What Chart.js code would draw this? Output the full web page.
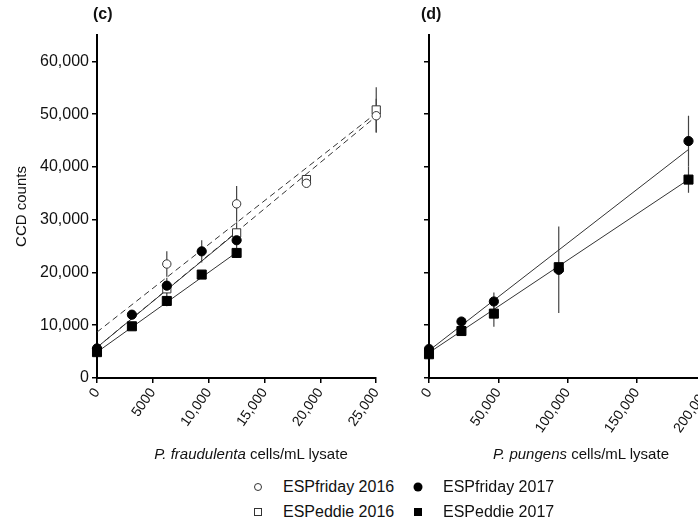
<!DOCTYPE html>
<html>
<head>
<meta charset="utf-8">
<script src="https://cdn.jsdelivr.net/npm/chart.js@4.4.1/dist/chart.umd.min.js"></script>
<style>
  body { margin: 0; width: 698px; height: 523px; overflow: hidden; background: #fff; font-family: "Liberation Sans", Arial, sans-serif; color: #111; }
  #wrap { position: relative; width: 698px; height: 523px; }
  canvas { position: absolute; top: 0; }
  .panel { position: absolute; top: 5px; font-weight: bold; font-size: 16px; }
  .xtitle { position: absolute; font-size: 15px; white-space: nowrap; transform: translate(-50%, -50%); }
  .leg { position: absolute; font-size: 16px; white-space: nowrap; transform: translateY(-50%); }
  .sym { position: absolute; box-sizing: border-box; transform: translate(-50%, -50%); }
</style>
</head>
<body>
<div id="wrap">
  <canvas id="chartC" width="392" height="475" style="left:0"></canvas>
  <canvas id="chartD" width="342" height="475" style="left:380px"></canvas>
  <div class="panel" style="left:93px">(c)</div>
  <div class="panel" style="left:421px">(d)</div>
  <div class="xtitle" style="left:251px; top:453px"><i>P. fraudulenta</i> cells/mL lysate</div>
  <div class="xtitle" style="left:581px; top:453px"><i>P. pungens</i> cells/mL lysate</div>

  <div class="sym" style="left:258px; top:487px; width:8px; height:8px; border:1px solid #333; border-radius:50%"></div>
  <div class="leg" style="left:283px; top:487px">ESPfriday 2016</div>
  <div class="sym" style="left:418px; top:487px; width:9px; height:9px; background:#000; border-radius:50%"></div>
  <div class="leg" style="left:443px; top:487px">ESPfriday 2017</div>
  <div class="sym" style="left:258px; top:512px; width:8px; height:8px; border:1px solid #333"></div>
  <div class="leg" style="left:283px; top:512px">ESPeddie 2016</div>
  <div class="sym" style="left:418px; top:512px; width:8px; height:8px; background:#000"></div>
  <div class="leg" style="left:443px; top:512px">ESPeddie 2017</div>
</div>
<script>
// axis ticks
const yTickValues = [0, 10000, 20000, 30000, 40000, 50000, 60000];
const yTickLabels = ['0', '10,000', '20,000', '30,000', '40,000', '50,000', '60,000'];
const xTickValuesC = [0, 5000, 10000, 15000, 20000, 25000];
const xTickLabelsC = ['0', '5000', '10,000', '15,000', '20,000', '25,000'];
const xTickValuesD = [0, 50000, 100000, 150000, 200000];
const xTickLabelsD = ['0', '50,000', '100,000', '150,000', '200,000'];

// (c) P. fraudulenta
const fraudX2016 = [6250, 12500, 18750, 25000];
const fraudFriday2016 = [21600, 33000, 36900, 49700];
const fraudFriday2016Err = [2400, 3400, 600, 3200];
const fraudEddie2016 = [16900, 27500, 37600, 50800];
const fraudEddie2016Err = [1500, 2000, 600, 4300];
const fraudX2017 = [0, 3125, 6250, 9375, 12500];
const fraudFriday2017 = [5600, 12000, 17500, 24000, 26100];
const fraudFriday2017Err = [300, 400, 1500, 2100, 1500];
const fraudEddie2017 = [4900, 9800, 14600, 19600, 23700];
const fraudEddie2017Err = [600, 500, 1000, 700, 900];
// regression lines (start, end)
const fraudFitX2016 = [0, 25000];
const fraudFitFriday2016 = [8700, 50200];
const fraudFitEddie2016 = [5800, 49600];
const fraudFitX2017 = [0, 12500];
const fraudFitFriday2017 = [5800, 27600];
const fraudFitEddie2017 = [4900, 23800];

// (d) P. pungens
const pungX = [0, 23400, 46800, 93600, 187200];
const pungFriday2017 = [5500, 10700, 14500, 20500, 44900];
const pungFriday2017Err = [300, 700, 1700, 8200, 4800];
const pungEddie2017 = [4500, 8900, 12200, 21000, 37600];
const pungEddie2017Err = [300, 400, 2500, 500, 2500];
const pungFitX = [0, 187200];
const pungFitFriday2017 = [5200, 43300];
const pungFitEddie2017 = [4800, 37600];

const pts = (xs, ys) => xs.map((x, i) => ({ x: x, y: ys[i] }));

// vertical error bars, drawn under the symbols
const errorBars = {
  id: 'errorBars',
  beforeDatasetsDraw(chart) {
    const ctx = chart.ctx;
    const xs = chart.scales.x, ys = chart.scales.y;
    ctx.save();
    ctx.strokeStyle = '#444';
    ctx.lineWidth = 1.2;
    chart.data.datasets.forEach(ds => {
      if (!ds.errors) return;
      ds.data.forEach((p, i) => {
        const e = ds.errors[i];
        if (!e) return;
        const px = xs.getPixelForValue(p.x);
        ctx.beginPath();
        ctx.moveTo(px, ys.getPixelForValue(p.y - e));
        ctx.lineTo(px, ys.getPixelForValue(p.y + e));
        ctx.stroke();
      });
    });
    ctx.restore();
  }
};

function markers(data, errors, style, filled) {
  return {
    data: data, errors: errors, showLine: false, clip: false,
    pointStyle: style,
    pointRadius: style === 'rect' ? (filled ? 6.4 : 5.8) : (filled ? 4.6 : 4.2),
    pointBackgroundColor: filled ? '#000' : '#fff',
    pointBorderColor: filled ? '#000' : '#333',
    pointBorderWidth: 1
  };
}

function fitLine(data, dashed) {
  return {
    data: data, showLine: true, clip: false, pointRadius: 0,
    borderColor: '#333', borderWidth: 1, borderDash: dashed ? [6, 4] : []
  };
}

const axisGrid = { drawOnChartArea: false, drawTicks: true, tickLength: 5, color: '#000', lineWidth: 1.5 };
const axisBorder = { display: true, color: '#000', width: 2 };

function yScale(showLabels, width) {
  return {
    type: 'linear', min: 0, max: 65000,
    afterBuildTicks: s => { s.ticks = yTickValues.map(v => ({ value: v })); },
    afterFit: s => { s.width = width; },
    grid: axisGrid, border: axisBorder,
    ticks: {
      padding: 3, autoSkip: false, color: showLabels ? '#111' : 'transparent',
      font: { size: 16, family: 'Liberation Sans' },
      callback: (v, i) => yTickLabels[i]
    },
    title: {
      display: showLabels, text: 'CCD counts', color: '#111',
      font: { size: 15, family: 'Liberation Sans' }, padding: { top: 13, bottom: 0 }
    }
  };
}

function xScale(max, values, labels) {
  return {
    type: 'linear', min: 0, max: max,
    afterBuildTicks: s => { s.ticks = values.map(v => ({ value: v })); },
    afterFit: s => { s.height = 97; },
    grid: axisGrid, border: axisBorder,
    ticks: {
      padding: 2, autoSkip: false, minRotation: 55, maxRotation: 55, color: '#111',
      font: { size: 14, family: 'Liberation Sans' },
      callback: (v, i) => labels[i]
    }
  };
}

const commonOptions = {
  responsive: false,
  animation: false,
  plugins: { legend: { display: false }, tooltip: { enabled: false } },
  layout: { padding: { top: 35, right: 15, left: 0, bottom: 0 } }
};

new Chart(document.getElementById('chartC'), {
  type: 'scatter',
  data: {
    datasets: [
      markers(pts(fraudX2017, fraudFriday2017), fraudFriday2017Err, 'circle', true),
      markers(pts(fraudX2017, fraudEddie2017), fraudEddie2017Err, 'rect', true),
      markers(pts(fraudX2016, fraudFriday2016), fraudFriday2016Err, 'circle', false),
      markers(pts(fraudX2016, fraudEddie2016), fraudEddie2016Err, 'rect', false),
      fitLine(pts(fraudFitX2016, fraudFitFriday2016), true),
      fitLine(pts(fraudFitX2016, fraudFitEddie2016), true),
      fitLine(pts(fraudFitX2017, fraudFitFriday2017), false),
      fitLine(pts(fraudFitX2017, fraudFitEddie2017), false)
    ]
  },
  options: Object.assign({}, commonOptions, {
    scales: { x: xScale(25000, xTickValuesC, xTickLabelsC), y: yScale(true, 97) }
  }),
  plugins: [errorBars]
});

new Chart(document.getElementById('chartD'), {
  type: 'scatter',
  data: {
    datasets: [
      markers(pts(pungX, pungFriday2017), pungFriday2017Err, 'circle', true),
      markers(pts(pungX, pungEddie2017), pungEddie2017Err, 'rect', true),
      fitLine(pts(pungFitX, pungFitFriday2017), false),
      fitLine(pts(pungFitX, pungFitEddie2017), false)
    ]
  },
  options: Object.assign({}, commonOptions, {
    scales: { x: xScale(200000, xTickValuesD, xTickLabelsD), y: yScale(false, 49) }
  }),
  plugins: [errorBars]
});
</script>
</body>
</html>
